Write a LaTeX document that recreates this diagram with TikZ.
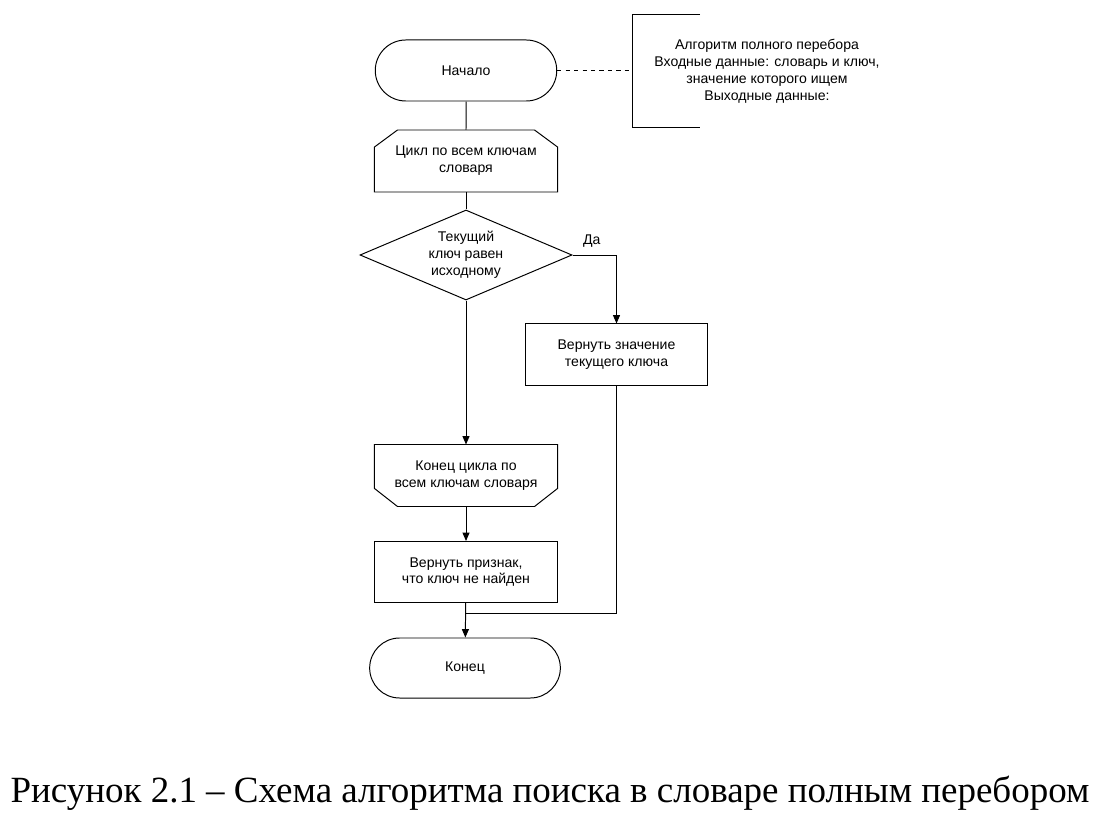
\documentclass[tikz,border=0pt]{standalone}
\usepackage{fontspec}
\setmainfont{Liberation Serif}
\newfontfamily\blockfont{Liberation Sans}
\usetikzlibrary{arrows.meta, shapes.misc, shapes.geometric}

\begin{document}
\begin{tikzpicture}[x=0.025cm, y=-0.025cm, line width=0.7pt,
  every node/.style={font=\blockfont\fontsize{10}{12}\selectfont, align=center},
  term/.style={draw, rounded rectangle, minimum width=4.77cm, minimum height=1.525cm},
  proc/.style={draw, rectangle, minimum width=4.55cm, minimum height=1.525cm},
  blank/.style={rectangle, minimum width=4.55cm, minimum height=1.525cm},
  cond/.style={draw, diamond, aspect=2.35, inner sep=0pt, minimum width=5.3cm, minimum height=2.25cm},
  arr/.style={-{Triangle[length=6pt, width=5pt]}}]
\useasboundingbox (0,0) rectangle (1116,826);

\node[term] (start) at (466,70.5) {Начало};
\node[blank] (loop) at (466,161) {Цикл по всем ключам\\словаря};
\draw ([xshift=0.575cm]loop.north west) -- ([xshift=-0.575cm]loop.north east) -- ([yshift=-0.425cm]loop.north east)
  -- (loop.south east) -- (loop.south west) -- ([yshift=-0.425cm]loop.north west) -- cycle;
\node[cond] (check) at (466,255) {Текущий\\ключ равен\\исходному};
\node[proc] (retval) at (616.5,354.5) {Вернуть значение\\текущего ключа};
\node[blank] (loopstop) at (466,475.5) {Конец цикла по\\всем ключам словаря};
\draw (loopstop.north west) -- (loopstop.north east) -- ([yshift=0.45cm]loopstop.south east) -- ([xshift=-0.575cm]loopstop.south east)
  -- ([xshift=0.575cm]loopstop.south west) -- ([yshift=0.45cm]loopstop.south west) -- cycle;
\node[proc] (notfound) at (466,572) {Вернуть признак,\\что ключ не найден};
\node[term, minimum width=5cm, minimum height=1.5cm] (stop) at (465,668) {Конец};

\node (note) at (767,71) {Алгоритм полного перебора\\Входные данные: словарь и ключ,\\значение которого ищем\\Выходные данные:};
\coordinate (brk) at (632,70.5);
\draw[dash pattern=on 3pt off 3pt] (start.east) -- (brk);
\draw (700,14) -- (632,14) -- (632,127) -- (700,127);

\draw (start) -- (loop);
\draw (loop) -- (check);
\draw[arr] (check) -- (loopstop);
\draw[arr] (check.east) -| node[pos=0.22, above, yshift=2pt] (yes) {Да} (retval);
\draw[arr] (loopstop) -- (notfound);
\draw[arr] (notfound) -- (stop);
\coordinate (join) at (466,613);
\draw (retval.south) |- (join);

\node[font=\rmfamily\fontsize{26.3}{31}\selectfont] (caption) at (550,793) {Рисунок 2.1 – Схема алгоритма поиска в словаре полным перебором};
\end{tikzpicture}
\end{document}
